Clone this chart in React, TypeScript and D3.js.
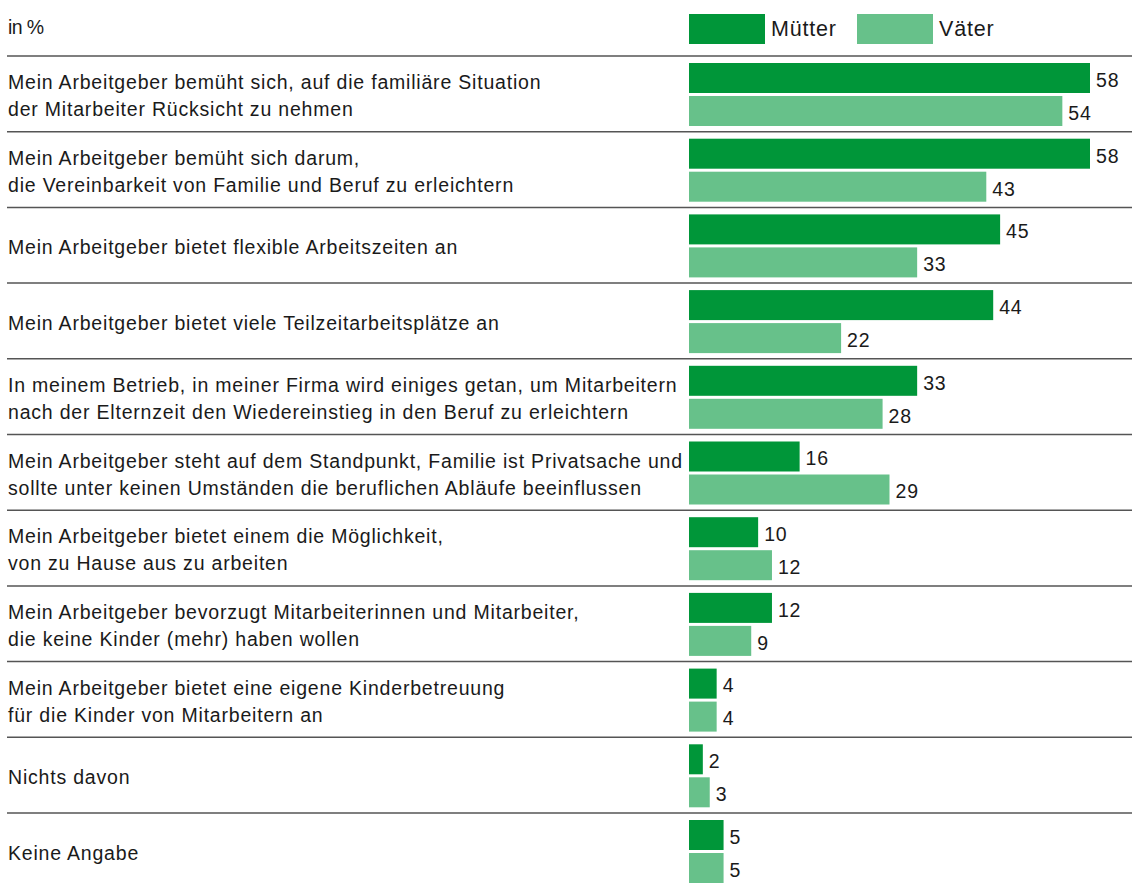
import React, { useRef, useEffect } from 'react';
import * as d3 from 'd3';

// categories (multi-line labels split by \n)
const categories = [
  'Mein Arbeitgeber bemüht sich, auf die familiäre Situation\nder Mitarbeiter Rücksicht zu nehmen',
  'Mein Arbeitgeber bemüht sich darum,\ndie Vereinbarkeit von Familie und Beruf zu erleichtern',
  'Mein Arbeitgeber bietet flexible Arbeitszeiten an',
  'Mein Arbeitgeber bietet viele Teilzeitarbeitsplätze an',
  'In meinem Betrieb, in meiner Firma wird einiges getan, um Mitarbeitern\nnach der Elternzeit den Wiedereinstieg in den Beruf zu erleichtern',
  'Mein Arbeitgeber steht auf dem Standpunkt, Familie ist Privatsache und\nsollte unter keinen Umständen die beruflichen Abläufe beeinflussen',
  'Mein Arbeitgeber bietet einem die Möglichkeit,\nvon zu Hause aus zu arbeiten',
  'Mein Arbeitgeber bevorzugt Mitarbeiterinnen und Mitarbeiter,\ndie keine Kinder (mehr) haben wollen',
  'Mein Arbeitgeber bietet eine eigene Kinderbetreuung\nfür die Kinder von Mitarbeitern an',
  'Nichts davon',
  'Keine Angabe',
];
const muetter = [58, 58, 45, 44, 33, 16, 10, 12, 4, 2, 5];
const vaeter = [54, 43, 33, 22, 28, 29, 12, 9, 4, 3, 5];
const seriesNames = ['Mütter', 'Väter'];
const colors = ['#009639', '#67c18a'];

const W = 1132;
const H = 883;
const FONT = '"Liberation Sans", Arial, sans-serif';

const App = () => {
  const svgRef = useRef<SVGSVGElement>(null);

  useEffect(() => {
    const svg = d3.select(svgRef.current);
    svg.selectAll('*').remove();

    const left = 8;
    const barX = 689;
    const top = 56;
    const rowH = 75.7;

    const x = d3.scaleLinear().domain([0, 58]).range([barX, 1090]);
    const y = d3.scaleBand<number>()
      .domain(d3.range(categories.length))
      .range([top, top + rowH * categories.length])
      .paddingInner(0)
      .paddingOuter(0);

    const g = svg.append('g')
      .style('font-family', FONT)
      .style('letter-spacing', '0.8px');

    // unit label
    g.append('text')
      .attr('x', left)
      .attr('y', 27)
      .attr('dy', '0.35em')
      .attr('fill', '#1a1a1a')
      .style('font-size', '19.5px')
      .style('letter-spacing', '-0.6px')
      .text('in %');

    // legend
    const legendX = [barX, 857];
    seriesNames.forEach((name, i) => {
      g.append('rect')
        .attr('x', legendX[i])
        .attr('y', 14)
        .attr('width', 76)
        .attr('height', 30)
        .attr('fill', colors[i]);
      g.append('text')
        .attr('x', legendX[i] + 82)
        .attr('y', 28)
        .attr('dy', '0.35em')
        .attr('fill', '#1a1a1a')
        .style('font-size', '21.5px')
        .text(name);
    });

    // separator lines
    g.selectAll('.sep')
      .data(d3.range(categories.length))
      .enter()
      .append('line')
      .attr('x1', left - 1)
      .attr('x2', W)
      .attr('y1', d => (y(d) as number))
      .attr('y2', d => (y(d) as number))
      .attr('stroke', '#555')
      .attr('stroke-width', 1.5);

    const rows = g.selectAll('.row')
      .data(categories)
      .enter()
      .append('g')
      .attr('transform', (_d, i) => `translate(0,${y(i)})`);

    // category labels
    rows.each(function (d) {
      const lines = d.split('\n');
      const cy = y.bandwidth() / 2 + 2;
      const t = d3.select(this).append('text')
        .attr('x', left)
        .attr('fill', '#1a1a1a')
        .style('font-size', '19.5px');
      lines.forEach((line, j) => {
        t.append('tspan')
          .attr('x', left)
          .attr('y', cy + (j - (lines.length - 1) / 2) * 27)
          .attr('dy', '0.35em')
          .text(line);
      });
    });

    // bars
    const barH = 30;
    const barOff = [7, 40];
    [muetter, vaeter].forEach((vals, s) => {
      rows.append('rect')
        .attr('x', barX)
        .attr('y', barOff[s])
        .attr('width', (_d, i) => x(vals[i]) - barX)
        .attr('height', barH)
        .attr('fill', colors[s]);
      rows.append('text')
        .attr('x', (_d, i) => x(vals[i]) + 6)
        .attr('y', barOff[s] + barH / 2 + 2)
        .attr('dy', '0.35em')
        .attr('fill', '#1a1a1a')
        .style('font-size', '19.5px')
        .text((_d, i) => vals[i]);
    });
  }, []);

  return (
    <svg
      ref={svgRef}
      width={W}
      height={H}
      style={{ position: 'absolute', left: 0, top: 0, background: '#fff' }}
    />
  );
};

export default App;
